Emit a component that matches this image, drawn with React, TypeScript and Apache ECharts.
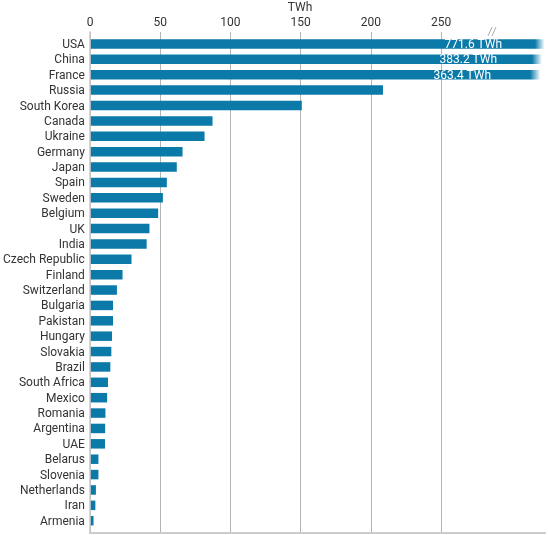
import React, { useEffect, useRef } from "react";
import * as echarts from "echarts";

const countries = [
  "USA", "China", "France", "Russia", "South Korea", "Canada", "Ukraine", "Germany",
  "Japan", "Spain", "Sweden", "Belgium", "UK", "India", "Czech Republic", "Finland",
  "Switzerland", "Bulgaria", "Pakistan", "Hungary", "Slovakia", "Brazil", "South Africa",
  "Mexico", "Romania", "Argentina", "UAE", "Belarus", "Slovenia", "Netherlands", "Iran", "Armenia",
];
const generationTWh = [
  771.6, 383.2, 363.4, 208.4, 150.5, 86.8, 81.1, 65.4,
  61.3, 54.2, 51.4, 48.0, 41.8, 39.8, 29.0, 22.6,
  18.6, 15.8, 15.8, 15.1, 14.6, 13.9, 12.2,
  11.6, 10.4, 10.2, 10.1, 5.4, 5.4, 3.6, 3.2, 1.9,
];
const tickValues = [0, 50, 100, 150, 200, 250];
const axisMax = 324;
const unitLabel = "TWh";

const BAR = "#0b7aa9";
const FONT = "Roboto";

export default function App() {
  const ref = useRef<HTMLDivElement>(null);
  useEffect(() => {
    if (!ref.current) return;
    const chart = echarts.init(ref.current, null, { renderer: "svg" });
    // fade start px, fade end px, label distance from bar end
    const fades = [
      [535, 544.5, 43],
      [532, 542, 48],
      [530, 540.5, 54],
    ];
    const data = generationTWh.map((v, i) => {
      if (v > axisMax) {
        const [a, b, dist] = fades[i] || [532, 542, 45];
        return {
          value: v,
          itemStyle: {
            color: new echarts.graphic.LinearGradient(
              a, 0, b, 0,
              [
                { offset: 0, color: BAR },
                { offset: 1, color: "rgba(11,122,169,0)" },
              ],
              true
            ),
          },
          label: {
            show: true,
            position: "insideRight",
            distance: dist,
            formatter: `${v.toFixed(1)} ${unitLabel}`,
            color: "#ffffff",
            textBorderWidth: 0,
            textBorderColor: "transparent",
            fontFamily: FONT,
            fontSize: 12,
            verticalAlign: "middle",
          },
        };
      }
      return { value: v };
    });
    chart.setOption({
      animation: false,
      textStyle: { fontFamily: FONT },
      graphic: [
        {
          type: "text",
          x: 300,
          y: 7,
          style: {
            text: unitLabel,
            align: "center",
            verticalAlign: "middle",
            font: `12px ${FONT}`,
            fill: "#333333",
          },
        },
        {
          type: "polygon",
          z: 100,
          shape: { points: [[488, 36], [492, 27], [496, 27], [492, 36]] },
          style: { fill: "#ffffff", stroke: null },
        },
        {
          type: "line",
          z: 101,
          shape: { x1: 488, y1: 36, x2: 492, y2: 27 },
          style: { stroke: "#aaaaaa", lineWidth: 1 },
        },
        {
          type: "line",
          z: 101,
          shape: { x1: 492, y1: 36, x2: 496, y2: 27 },
          style: { stroke: "#aaaaaa", lineWidth: 1 },
        },
      ],
      grid: [
        { left: 90, right: 3, top: 32, bottom: 2 },
        { left: 90, right: 3, top: 36.3, bottom: 6.6 },
      ],
      xAxis: [
        {
          gridIndex: 0,
          type: "value",
          position: "top",
          min: 0,
          max: axisMax,
          interval: 50,
          axisLine: { show: true, lineStyle: { color: "#c8c8c8", width: 1.5 } },
          axisTick: { show: false, customValues: tickValues },
          axisLabel: {
            customValues: tickValues,
            color: "#333333",
            fontSize: 12,
            fontFamily: FONT,
            margin: 4,
          },
          splitLine: { show: true, lineStyle: { color: "#b4b4b4", width: 1 } },
        },
        {
          gridIndex: 0,
          type: "value",
          position: "bottom",
          min: 0,
          max: axisMax,
          axisLine: { show: true, lineStyle: { color: "#cccccc", width: 2 } },
          axisTick: { show: false },
          axisLabel: { show: false },
          splitLine: { show: false },
        },
        {
          gridIndex: 1,
          type: "value",
          min: 0,
          max: axisMax,
          show: false,
        },
      ],
      yAxis: [
        {
          gridIndex: 0,
          type: "value",
          min: 0,
          max: 1,
          axisLine: { show: true, lineStyle: { color: "#c8c8c8", width: 1.5 } },
          axisTick: { show: false },
          axisLabel: { show: false },
          splitLine: { show: false },
        },
        {
          gridIndex: 1,
          type: "category",
          inverse: true,
          data: countries,
          axisLine: { show: false },
          axisTick: { show: false },
          axisLabel: { interval: 0, color: "#333333", fontSize: 12, fontFamily: FONT, margin: 6 },
          splitLine: { show: false },
        },
      ],
      series: [
        {
          type: "bar",
          xAxisIndex: 2,
          yAxisIndex: 1,
          data,
          barWidth: 9.5,
          clip: true,
          itemStyle: { color: BAR },
        },
      ],
    });
    return () => chart.dispose();
  }, []);
  return (
    <div
      ref={ref}
      style={{ position: "fixed", left: 0, top: 0, width: 548, height: 535 }}
    />
  );
}
